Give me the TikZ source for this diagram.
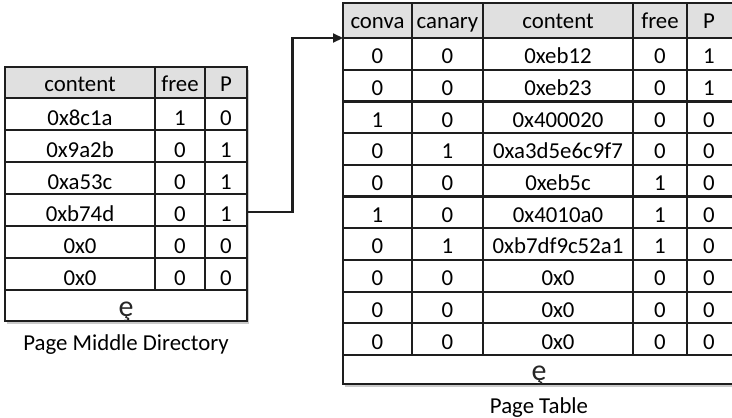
\documentclass[tikz,border=0pt]{standalone}
\usepackage{fontspec}
\setmainfont{Carlito}
\usetikzlibrary{arrows.meta,shadows}
\definecolor{headgray}{RGB}{224,224,224}
\definecolor{linegray}{RGB}{30,30,30}
\tikzset{
  grid/.style={line width=2.2pt, draw=linegray},
  tbl/.style={fill=white, drop shadow={shadow xshift=2pt, shadow yshift=-3pt, opacity=0.35, fill=black!60}},
  cell/.style={inner sep=0pt, anchor=base, font=\fontsize{22.8}{26}\selectfont},
  caption/.style={inner sep=0pt, anchor=base, font=\fontsize{22.8}{26}\selectfont},
  dots/.style={inner sep=0pt, anchor=base, font=\fontsize{30}{32}\selectfont\color{black!85}},
  link/.style={line width=2.2pt, draw=linegray, -{Triangle[length=10pt,width=9pt]}}
}
\begin{document}
\begin{tikzpicture}[x=1pt,y=-1pt]
\useasboundingbox (0,0) rectangle (732,418);
\begin{scope}
\clip (0,0) rectangle (732,418);

% ---------- Page Middle Directory ----------
\path[tbl] (5,67) rectangle (247,321);
\fill[headgray] (5,67) rectangle (247,98);
\foreach \y in {98,130,162,194,226,258,290}
  \draw[grid] (5,\y) -- (247,\y);
\draw[grid] (155,67) -- (155,290);
\draw[grid] (205,67) -- (205,290);
\draw[grid] (5,67) rectangle (247,321);

\node[cell] (pmd-h1) at (80,91.5) {content};
\node[cell] (pmd-h2) at (180,91.5) {free};
\node[cell] (pmd-h3) at (226,91.5) {P};
\foreach \c/\f/\p [count=\i] in {0x8c1a/1/0, 0x9a2b/0/1, 0xa53c/0/1, 0xb74d/0/1, 0x0/0/0, 0x0/0/0}{
  \pgfmathsetmacro{\yy}{98+32*\i-5}
  \node[cell] (pmd-\i-1) at (80,\yy) {\c};
  \node[cell] (pmd-\i-2) at (180,\yy) {\f};
  \node[cell] (pmd-\i-3) at (226,\yy) {\p};
}
\node[dots] (pmd-dots) at (126,316) {ȩ};
\node[caption] (pmd-cap) at (126,350) {Page Middle Directory};

% ---------- Page Table ----------
\path[tbl] (343,3) rectangle (740,384);
\fill[headgray] (343,3) rectangle (740,38);
\foreach \i in {0,...,10}
  \draw[grid] (343,{38+31.7*\i}) -- (740,{38+31.7*\i});
\foreach \x in {412,483,633,687}
  \draw[grid] (\x,3) -- (\x,355);
\draw[grid] (343,3) rectangle (740,384);

\node[cell] (pt-h1) at (377.5,28.5) {conva};
\node[cell] (pt-h2) at (447.5,28.5) {canary};
\node[cell] (pt-h3) at (558,28.5) {content};
\node[cell] (pt-h4) at (660,28.5) {free};
\node[cell] (pt-h5) at (709,28.5) {P};
\foreach \a/\b/\c/\f/\p [count=\i] in {
  0/0/0xeb12/0/1, 0/0/0xeb23/0/1, 1/0/0x400020/0/0, 0/1/0xa3d5e6c9f7/0/0,
  0/0/0xeb5c/1/0, 1/0/0x4010a0/1/0, 0/1/0xb7df9c52a1/1/0,
  0/0/0x0/0/0, 0/0/0x0/0/0, 0/0/0x0/0/0}{
  \pgfmathsetmacro{\yy}{38+31.7*\i-6}
  \node[cell] (pt-\i-1) at (377.5,\yy) {\a};
  \node[cell] (pt-\i-2) at (447.5,\yy) {\b};
  \node[cell] (pt-\i-3) at (558,\yy) {\c};
  \node[cell] (pt-\i-4) at (660,\yy) {\f};
  \node[cell] (pt-\i-5) at (709,\yy) {\p};
}
\node[dots] (pt-dots) at (539,380) {ȩ};
\node[caption] (pt-cap) at (539,413) {Page Table};
\end{scope}

% ---------- pointer from the PMD entry to the page table ----------
\coordinate (pmd-out) at (247,212);
\coordinate (pt-in) at (343,38);
\draw[link] (pmd-out) -- (292.5,212) |- (pt-in);
\end{tikzpicture}
\end{document}
